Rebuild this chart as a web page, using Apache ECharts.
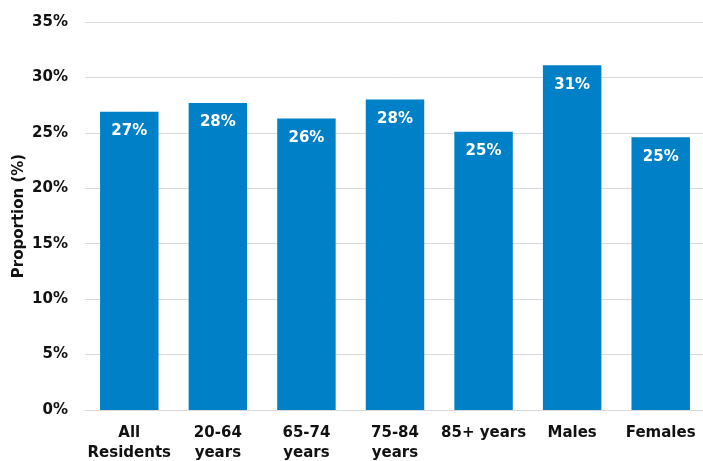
<!DOCTYPE html>
<html>
<head>
<meta charset="utf-8">
<script src="https://cdn.jsdelivr.net/npm/echarts@6/dist/echarts.min.js"></script>
<style>html,body{margin:0;padding:0;background:#fff}#c{width:703px;height:461px}</style>
</head>
<body>
<div id="c"></div>
<script>
const categories = ['All\nResidents', '20-64\nyears', '65-74\nyears', '75-84\nyears', '85+ years', 'Males', 'Females'];
const values = [26.9, 27.7, 26.3, 28.0, 25.1, 31.1, 24.6];
const yTicks = [0, 5, 10, 15, 20, 25, 30, 35];

const chart = echarts.init(document.getElementById('c'));
const font = '"DejaVu Sans", sans-serif';
chart.setOption({
  animation: false,
  grid: { left: 85, right: -2, top: 22, bottom: 51, containLabel: false, outerBoundsMode: 'none' },
  xAxis: {
    type: 'category',
    data: categories,
    axisLine: { lineStyle: { color: '#d9d9d9', width: 1 } },
    axisTick: { show: false },
    axisLabel: { color: '#111111', fontFamily: font, fontWeight: 'bold', fontSize: 15, lineHeight: 20, margin: 13, interval: 0 }
  },
  yAxis: {
    type: 'value',
    min: yTicks[0],
    max: yTicks[yTicks.length - 1],
    interval: 5,
    name: 'Proportion (%)',
    nameLocation: 'middle',
    nameGap: 58,
    nameMoveOverlap: false,
    nameTextStyle: { color: '#111111', fontFamily: font, fontWeight: 'bold', fontSize: 15 },
    axisLine: { show: false },
    axisTick: { show: false },
    splitLine: { lineStyle: { color: '#d9d9d9', width: 1 } },
    axisLabel: { formatter: '{value}%', color: '#111111', fontFamily: font, fontWeight: 'bold', fontSize: 15, margin: 17 }
  },
  series: [{
    type: 'bar',
    data: values,
    barWidth: '66%',
    itemStyle: { color: '#0080c6' },
    label: {
      show: true,
      position: 'insideTop',
      distance: 12,
      color: '#ffffff',
      fontFamily: font,
      fontWeight: 'bold',
      fontSize: 15,
      formatter: p => Math.round(p.value) + '%'
    }
  }]
});
</script>
</body>
</html>
